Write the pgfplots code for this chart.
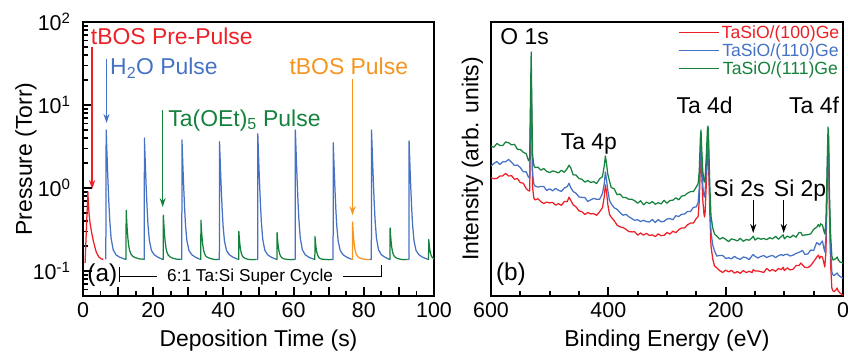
\documentclass[border=0pt]{standalone}
\usepackage{pgfplots}
\usepackage{pgfplotstable}
\pgfplotsset{compat=1.18}
\usepackage{fontspec}
\setmainfont{Liberation Sans}
\usetikzlibrary{arrows.meta}
\definecolor{cred}{RGB}{237,32,39}
\definecolor{cblue}{RGB}{70,114,196}
\definecolor{cgreen}{RGB}{20,130,60}
\definecolor{corange}{RGB}{247,148,30}

\pgfplotstableread{
E g b r
600 149.8 129.9 118.2
595 148.8 132.6 117.3
590 152.5 134.4 117.5
585 150.6 131.5 119.9
580 150.4 134.2 120.1
575 154.1 134.2 122.6
570 153.3 136.6 119.9
565 151.1 133.7 120.4
560 151.7 130.6 116.7
555 146.7 131.0 117.5
550 146.5 128.4 113.4
545 143.8 124.3 112.8
540 142.2 124.3 107.4
536 135.2 118.5 105.3
534 138 120 105
532.8 190 175 160
531.5 244 228 212
530.3 185 170 155
529 140 122 108
527 130.9 112 98.1
525 128.4 110.0 96.1
520 128.8 108.9 97.2
515 125.8 109.6 94.3
510 127.5 109.4 92.5
505 124.6 105.5 93.9
500 123.4 107.2 93.1
495 125.1 105.2 93.6
490 124.3 107.6 90.9
485 123.1 105.7 92.4
480 125.7 104.6 90.7
475 123.7 108.0 94.5
470 127.5 109.4 94.4
467 130.8 112.7 98.8
464 128.2 108.3 95.6
460 121.2 104.5 91.3
455 120.9 102.7 89.1
450 117.4 99.0 85.1
445 116.8 98.6 84.2
440 113.8 98.4 81.5
435 115.5 94.5 83.5
430 113.6 96.2 82.1
425 114.3 97.6 82.4
420 112.4 96.7 80.7
415 117.1 96.6 84.1
410 119.4 102.4 88.3
407 130 112 99
405 140 124 111
403 132 116 104
401 122 106 92
398 114.8 95.4 81.6
395 108.4 92.2 78.8
390 107.2 88.2 75.3
385 101.3 86.6 70.9
380 102.0 83.4 69.1
375 98.4 80.7 68.5
370 98.5 81.6 66.7
365 96.6 79.3 64.4
360 96.8 77.4 64.1
355 95.2 75.7 64.2
350 92.8 76.3 60.9
345 95.2 74.5 63.0
340 91.2 75.7 60.8
335 93.9 74.4 62.6
330 92.4 74.0 60.5
325 94.5 76.6 61.1
320 91.7 73.5 59.4
315 93.3 76.4 62.1
310 92.1 74.2 60.3
305 95.7 74.6 60.7
300 92.7 77.0 63.6
295 95.5 77.4 61.9
290 95.8 76.3 64.8
285 98.2 80.3 63.4
280 96.2 79.5 66.3
275 99.9 81.7 68.1
270 100.4 82.0 68.1
265 102.8 84.6 71.2
260 104.4 84.5 72.9
255 104.4 88.6 72.9
250 109.1 89.2 77.6
247 112.3 93.3 79.4
245 125 108 95
243 160 145 132
242 166 152 140
241 150 137 126
239 125 110 96
237 115 100 82
236 114 99 79
235 118 104 84
233 140 127 112
231 168 155 142
230 170 158 146
229 155 143 130
227 110 95 82
225 80 64 50
222 68 51 37
219 62 45 30
215 59.8 39.9 28.2
210 56.8 40.6 25.3
205 58.5 40.4 23.5
200 56.6 37.5 25.9
195 54.4 38.2 24.1
190 57.1 37.2 25.6
185 56.3 39.6 22.9
180 55.1 37.7 24.4
175 57.7 36.6 22.7
170 54.7 39.0 25.5
165 56.5 38.4 23.4
160 55.8 36.3 24.8
155 58.2 40.3 23.4
153 59.8 41.5 26.3
150 55.9 39.7 25.1
145 58.0 38.0 25.1
140 56.8 39.6 24.3
135 57.5 40.4 23.5
130 56.4 38.5 27.6
125 58.3 39.8 24.9
120 57.1 40.6 26.4
115 59.7 38.3 24.7
110 56.7 40.4 27.5
105 59.5 41.4 26.4
102 61.2 40.3 28.8
100 57.2 41.3 25.4
95 59.9 41.7 28.1
90 58.4 40.0 26.1
85 60.8 40.9 26.8
80 58.8 42.6 30.4
75 63.5 43.6 30.5
72 63.6 44.5 32.9
69 60.4 45.6 31.1
65 61.1 41.6 28.6
60 61.3 42.0 28.4
55 62.1 46.0 30.4
50 66.7 45.5 34.5
45 68.7 53.3 38.6
42 71.5 52.3 40.9
40 69.2 51.0 37.4
38 72.2 52.7 39.8
35 71.0 55.0 38.9
33 66 49 34
31 62 44 29
29 75 60 45
27 130 118 108
25.5 169 160 150
24.5 160 150 140
23 100 88 78
21 60 45 30
19 40 24 8
17 36 21 5
15 36.5 20.5 4.5
12 37.5 22 6
10 39 23 8
8 36 21 5
5 34 19.5 3
2 33.5 18.5 1.5
0 33 18 1
}\xps

\begin{document}
\begin{tikzpicture}
\useasboundingbox (-83bp,-56bp) rectangle (765bp,296bp);
\pgfplotsset{
 every axis/.append style={
  scale only axis, height=274bp,
  axis line style={line width=1.7bp},
  every tick/.style={black, line width=2bp},
  every minor tick/.style={black, line width=1.8bp},
  tick pos=left, tick align=inside,
  /pgf/number format/assume math mode=true,
  tick label style={font=\fontsize{21.5}{25}\selectfont},
  label style={font=\fontsize{23}{27}\selectfont},
  xticklabel style={yshift=-3.5bp},
  every axis plot/.append style={line width=1.25bp, line join=round},
 },
}
% ---------------- panel (a)
\begin{axis}[at={(0bp,0bp)}, anchor=south west, width=351bp,
 ymode=log, xmin=0, xmax=100, ymin=0.05, ymax=100,
 major tick length=9bp, minor tick length=5.5bp,
 xtick={0,10,...,100}, xticklabels={0,,20,,40,,60,,80,,100},
 minor xtick={5,15,...,95},
 ytick={0.1,1,10,100},
 yticklabels={10\textsuperscript{-1},10\textsuperscript{0},10\textsuperscript{1},10\textsuperscript{2}},
 minor ytick={0.05,0.06,0.07,0.08,0.09,0.2,0.3,0.4,0.5,0.6,0.7,0.8,0.9,2,3,4,5,6,7,8,9,20,30,40,50,60,70,80,90},
 yticklabel style={xshift=-9bp},
 xlabel={Deposition Time (s)}, ylabel={Pressure (Torr)},
 xlabel style={at={(axis description cs:0.5,-0.186)}, anchor=base},
 ylabel style={at={(axis description cs:-0.146,0.5)}, anchor=base},
]
\addplot[cred] coordinates {(0.6,0.125)(1.0,0.35)(1.4,0.9)(1.5,0.7)(1.7,0.5)(2.0,0.38)(2.4,0.3)(2.85,0.24)(3.3,0.2)(3.8,0.168)(4.5,0.148)(5.2,0.14)(5.8,0.138)};
\addplot[cblue] coordinates {(6.5,0.138)(6.6,5.0)(6.75,3.25)(6.9,2.14)(7.1,1.26)(7.35,0.69)(7.6,0.42)(8.0,0.25)(8.6,0.18)(9.4,0.157)(10.4,0.147)(11.9,0.139)};
\addplot[cgreen] coordinates {(11.9,0.139)(12.25,0.138)(12.3,0.54)(12.45,0.404)(12.6,0.316)(12.8,0.246)(13.05,0.199)(13.3,0.176)(13.7,0.159)(14.3,0.149)(15.1,0.144)(16.1,0.140)(17.1,0.139)};
\addplot[cblue] coordinates {(17.1,0.139)(17.45,0.138)(17.5,4.0)(17.65,2.62)(17.8,1.74)(18.0,1.04)(18.25,0.59)(18.5,0.37)(18.9,0.235)(19.5,0.177)(20.3,0.157)(21.3,0.147)(22.5,0.139)};
\addplot[cgreen] coordinates {(22.5,0.139)(22.85,0.138)(22.9,0.47)(23.05,0.357)(23.2,0.285)(23.4,0.227)(23.65,0.188)(23.9,0.169)(24.3,0.155)(24.9,0.147)(25.7,0.142)(26.7,0.139)(27.8,0.139)};
\addplot[cblue] coordinates {(27.8,0.139)(28.15,0.138)(28.2,3.8)(28.35,2.49)(28.5,1.66)(28.7,1.00)(28.95,0.57)(29.2,0.36)(29.6,0.232)(30.2,0.176)(31.0,0.157)(32.0,0.147)(33.2,0.139)};
\addplot[cgreen] coordinates {(33.2,0.139)(33.55,0.138)(33.6,0.41)(33.75,0.318)(33.9,0.258)(34.1,0.210)(34.35,0.179)(34.6,0.163)(35.0,0.151)(35.6,0.145)(36.4,0.141)(37.4,0.138)(38.5,0.138)};
\addplot[cblue] coordinates {(38.5,0.138)(38.85,0.138)(38.9,3.6)(39.05,2.36)(39.2,1.58)(39.4,0.95)(39.65,0.55)(39.9,0.355)(40.3,0.229)(40.9,0.176)(41.7,0.157)(42.7,0.147)(44.0,0.139)};
\addplot[cgreen] coordinates {(44.0,0.139)(44.35,0.138)(44.4,0.30)(44.55,0.245)(44.7,0.209)(44.9,0.180)(45.15,0.161)(45.4,0.152)(45.8,0.145)(46.4,0.141)(47.2,0.138)(48.2,0.137)(49.4,0.138)};
\addplot[cblue] coordinates {(49.4,0.138)(49.75,0.138)(49.8,4.5)(49.95,2.94)(50.1,1.94)(50.3,1.15)(50.55,0.64)(50.8,0.40)(51.2,0.242)(51.8,0.178)(52.6,0.157)(53.6,0.147)(54.9,0.139)};
\addplot[cgreen] coordinates {(54.9,0.139)(55.25,0.138)(55.3,0.29)(55.45,0.238)(55.6,0.204)(55.8,0.177)(56.05,0.160)(56.3,0.151)(56.7,0.144)(57.3,0.140)(58.1,0.138)(59.1,0.137)(60.1,0.138)};
\addplot[cblue] coordinates {(60.1,0.138)(60.45,0.138)(60.5,5.0)(60.65,3.25)(60.8,2.14)(61.0,1.26)(61.25,0.69)(61.5,0.42)(61.9,0.25)(62.5,0.18)(63.3,0.157)(64.3,0.147)(65.7,0.139)};
\addplot[cgreen] coordinates {(65.7,0.139)(66.05,0.138)(66.1,0.26)(66.25,0.218)(66.4,0.191)(66.6,0.169)(66.85,0.155)(67.1,0.148)(67.5,0.142)(68.1,0.139)(68.9,0.138)(69.9,0.137)(70.9,0.138)};
\addplot[cblue] coordinates {(70.9,0.138)(71.25,0.138)(71.3,3.5)(71.45,2.30)(71.6,1.54)(71.8,0.93)(72.05,0.54)(72.3,0.35)(72.7,0.228)(73.3,0.176)(74.1,0.157)(75.1,0.147)(76.4,0.139)};
\addplot[corange] coordinates {(76.4,0.139)(76.75,0.138)(76.8,0.39)(76.95,0.304)(77.1,0.249)(77.3,0.205)(77.55,0.176)(77.8,0.161)(78.2,0.150)(78.8,0.144)(79.6,0.140)(80.6,0.138)(81.8,0.138)};
\addplot[cblue] coordinates {(81.8,0.138)(82.15,0.138)(82.2,5.0)(82.35,3.25)(82.5,2.14)(82.7,1.26)(82.95,0.69)(83.2,0.42)(83.6,0.25)(84.2,0.18)(85.0,0.157)(86.0,0.147)(87.1,0.139)};
\addplot[cgreen] coordinates {(87.1,0.139)(87.45,0.138)(87.5,0.33)(87.65,0.264)(87.8,0.222)(88.0,0.188)(88.25,0.166)(88.5,0.155)(88.9,0.147)(89.5,0.142)(90.3,0.139)(91.3,0.137)(92.5,0.138)};
\addplot[cblue] coordinates {(92.5,0.138)(92.85,0.138)(92.9,3.7)(93.05,2.43)(93.2,1.62)(93.4,0.97)(93.65,0.56)(93.9,0.36)(94.3,0.231)(94.9,0.176)(95.7,0.157)(96.7,0.147)(98.1,0.139)};
\addplot[cgreen] coordinates {(98.1,0.139)(98.45,0.138)(98.5,0.24)(98.65,0.205)(98.8,0.182)(99.0,0.164)(99.25,0.152)(99.5,0.146)(99.9,0.141)(100.5,0.139)};
% annotations
\node[anchor=base west, inner sep=0pt, text=cred, font=\fontsize{23}{27}\selectfont] at (axis cs:2.2,53.8) {tBOS Pre-Pulse};
\draw[cred, line width=1.3bp, -{Stealth[length=9bp,width=6bp]}] (axis cs:2.6,50) -- (axis cs:2.6,0.97);
\node[anchor=base west, inner sep=0pt, text=cblue, font=\fontsize{23}{27}\selectfont] at (axis cs:7.7,23) {H\textsubscript{2}O Pulse};
\draw[cblue, line width=1.3bp, -{Stealth[length=9bp,width=6bp]}] (axis cs:6.7,35.8) -- (axis cs:6.7,6.07);
\node[anchor=base west, inner sep=0pt, text=cgreen, font=\fontsize{23}{27}\selectfont] at (axis cs:24.3,5.58) {Ta(OEt)\textsubscript{5} Pulse};
\draw[cgreen, line width=1.3bp, -{Stealth[length=9bp,width=6bp]}] (axis cs:22.7,8.7) -- (axis cs:22.7,0.59);
\node[anchor=base west, inner sep=0pt, text=corange, font=\fontsize{23}{27}\selectfont] at (axis cs:58.8,23) {tBOS Pulse};
\draw[corange, line width=1.3bp, -{Stealth[length=9bp,width=6bp]}] (axis cs:76.8,20.6) -- (axis cs:76.8,0.47);
\node[anchor=base west, inner sep=0pt, font=\fontsize{24.5}{28}\selectfont] at (axis cs:1.2,0.0743) {(a)};
\draw[line width=1.3bp] (axis cs:10.3,0.1117) -- (axis cs:10.3,0.0736);
\draw[line width=1.3bp] (axis cs:10.3,0.0853) -- (axis cs:21.1,0.0853);
\draw[line width=1.3bp] (axis cs:74.1,0.0853) -- (axis cs:85.1,0.0853) -- (axis cs:85.1,0.1177);
\node[anchor=base, inner sep=0pt, font=\fontsize{17.3}{20}\selectfont] at (axis cs:47.6,0.0743) {6:1 Ta:Si Super Cycle};
\end{axis}
% ---------------- panel (b)
\begin{axis}[at={(408bp,0bp)}, anchor=south west, width=352bp,
 xmin=0, xmax=600, x dir=reverse, ymin=0, ymax=274,
 major tick length=9bp, minor tick length=5.5bp,
 ytick=\empty, xtick={0,200,400,600},
 minor xtick={50,100,150,250,300,350,450,500,550},
 xlabel={Binding Energy (eV)}, ylabel={Intensity (arb. units)},
 xlabel style={at={(axis description cs:0.5,-0.186)}, anchor=base},
 ylabel style={at={(axis description cs:-0.036,0.5)}, anchor=base},
 legend style={at={(rel axis cs:1,1)}, anchor=north east, draw=none, fill=none,
   font=\fontsize{17.7}{20}\selectfont, inner sep=1bp, row sep=-1.5bp,
   nodes={inner sep=2.5bp}},
 legend image code/.code={\draw[#1, line width=1.25bp] (0bp,0bp) -- (40bp,0bp);},
]
\addplot[cred] table[x=E,y=r]{\xps};
\addlegendentry{\textcolor{cred}{TaSiO/(100)Ge}}
\addplot[cblue] table[x=E,y=b]{\xps};
\addlegendentry{\textcolor{cblue}{TaSiO/(110)Ge}}
\addplot[cgreen] table[x=E,y=g]{\xps};
\addlegendentry{\textcolor{cgreen}{TaSiO/(111)Ge}}
\node[anchor=base west, inner sep=0pt, font=\fontsize{23}{27}\selectfont] at (axis cs:584.2,251) {O 1s};
\node[anchor=base west, inner sep=0pt, font=\fontsize{23}{27}\selectfont] at (axis cs:481.2,146) {Ta 4p};
\node[anchor=base west, inner sep=0pt, font=\fontsize{23}{27}\selectfont] at (axis cs:283.8,182.7) {Ta 4d};
\node[anchor=base west, inner sep=0pt, font=\fontsize{23}{27}\selectfont] at (axis cs:92,182.7) {Ta 4f};
\node[anchor=base west, inner sep=0pt, font=\fontsize{23}{27}\selectfont] at (axis cs:221,99.3) {Si 2s};
\node[anchor=base west, inner sep=0pt, font=\fontsize{23}{27}\selectfont] at (axis cs:118,99.3) {Si 2p};
\draw[line width=1.3bp, -{Stealth[length=9bp,width=6bp]}] (axis cs:153,96) -- (axis cs:153,63);
\draw[line width=1.3bp, -{Stealth[length=9bp,width=6bp]}] (axis cs:101,96) -- (axis cs:101,63);
\node[anchor=base west, inner sep=0pt, font=\fontsize{24.5}{28}\selectfont] at (axis cs:591.8,16) {(b)};
\end{axis}
\end{tikzpicture}
\end{document}
